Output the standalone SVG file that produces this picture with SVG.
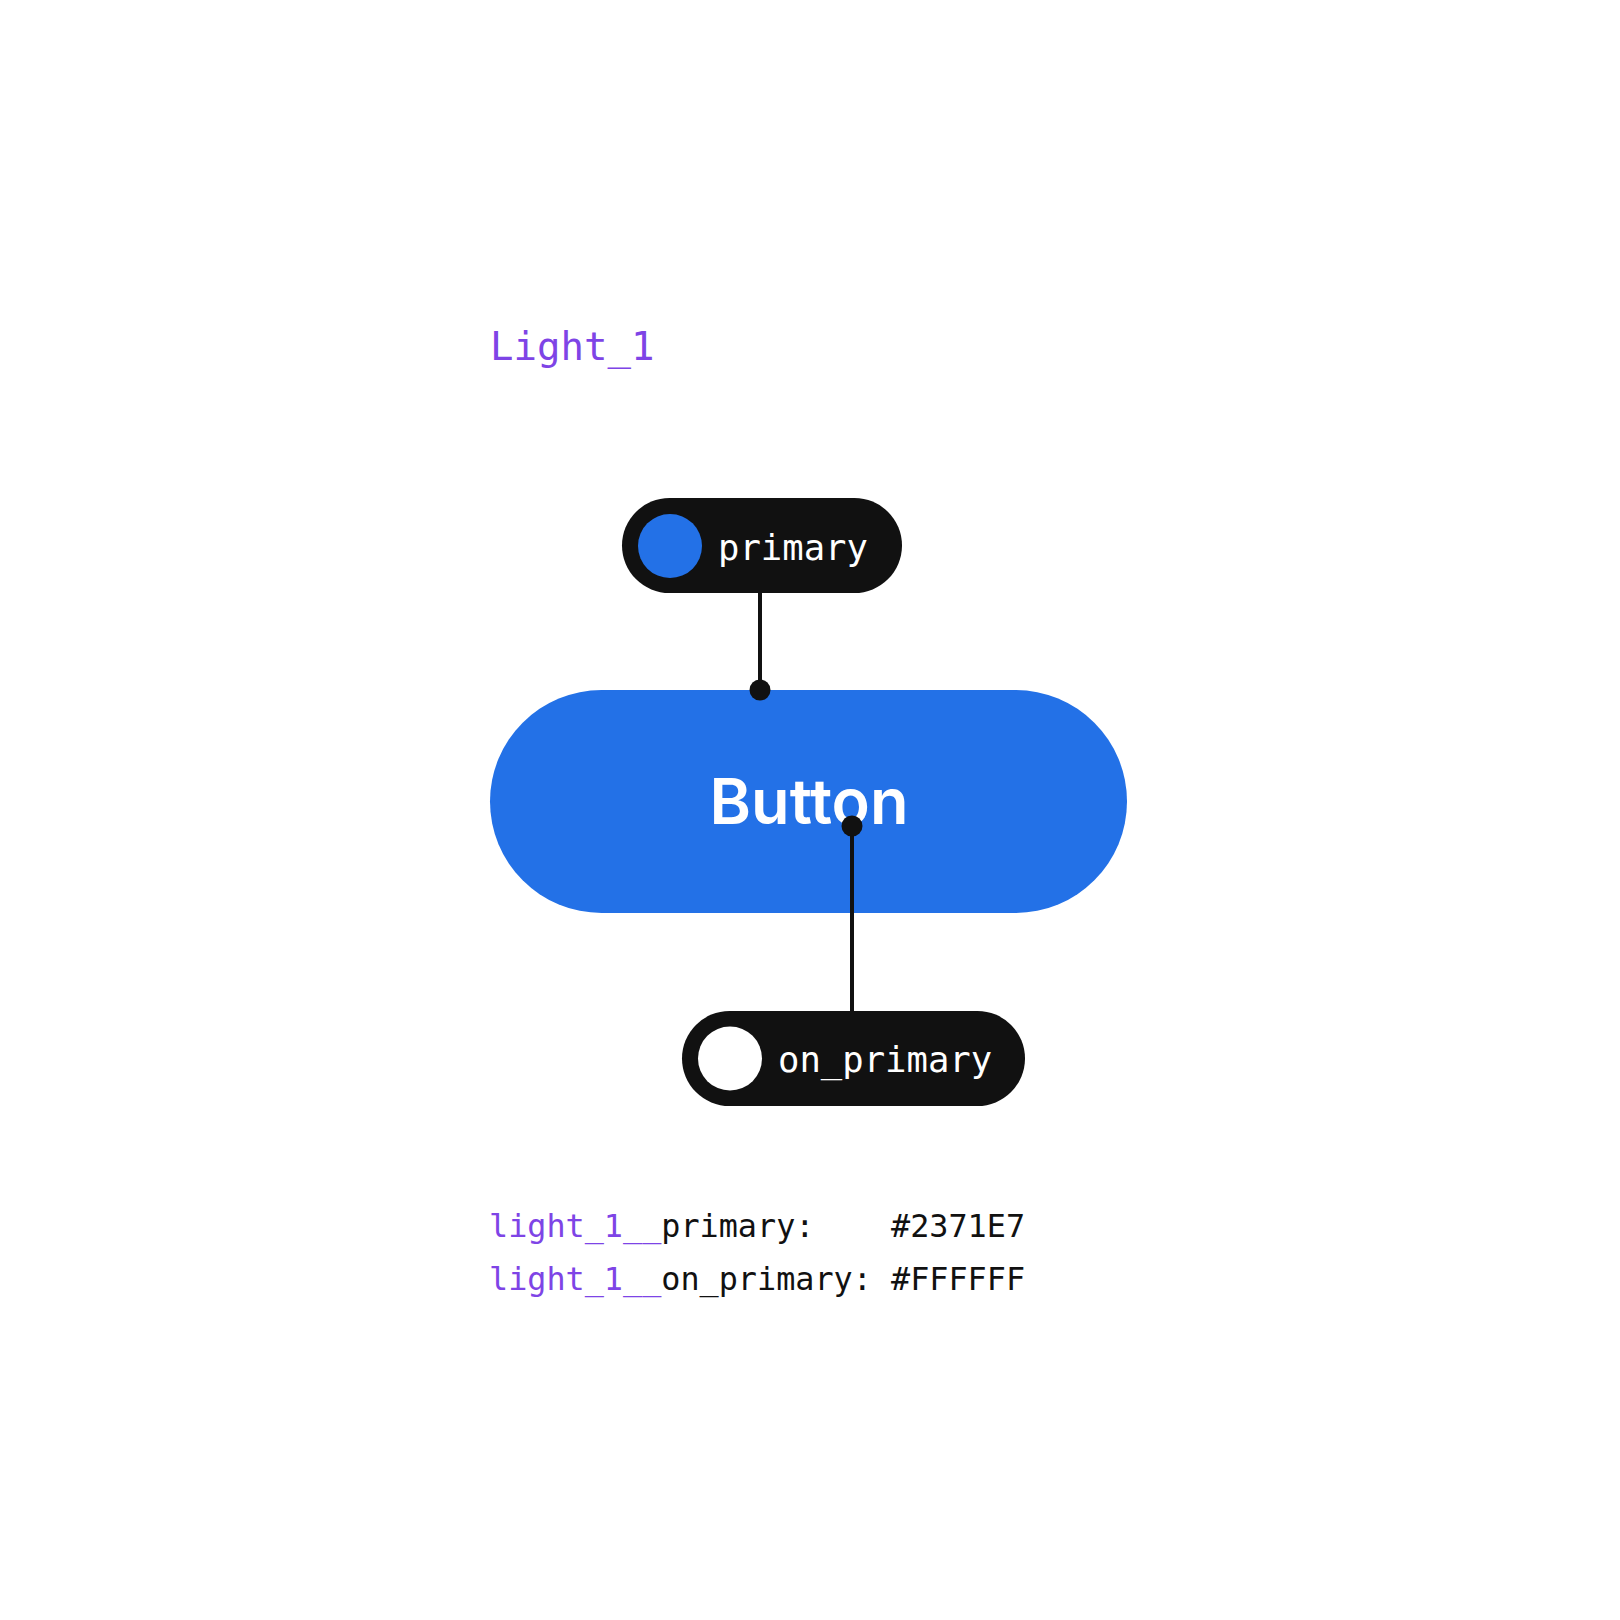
<svg xmlns="http://www.w3.org/2000/svg" width="1620" height="1620" viewBox="0 0 1620 1620">
<style>
.mono{font-family:"DejaVu Sans Mono","Liberation Mono",monospace;}
.purple{fill:#7E44E6;}
.dark{fill:#111111;}
.chip{fill:#111111;}
.chiptext{fill:#FFFFFF;font-size:35.6px;}
.code{font-size:31.8px;white-space:pre;}
.wire{stroke:#111111;stroke-width:4;fill:none;}
.dot{fill:#111111;}
</style>
<rect width="1620" height="1620" fill="#FFFFFF"/>
<text id="title" class="mono purple" x="490" y="360" font-size="39">Light_1</text>
<g id="node-primary">
  <rect class="chip" x="622" y="498" width="280" height="95" rx="47.5"/>
  <circle cx="670" cy="546" r="32" fill="#2371E7"/>
  <text class="mono chiptext" x="718" y="560">primary</text>
</g>
<g id="node-button">
  <rect x="490" y="690" width="637" height="223" rx="111.5" fill="#2371E7"/>
  <text x="809" y="824" text-anchor="middle" font-family="Inter, Roboto, sans-serif" font-weight="600" font-size="63" fill="#FFFFFF">Button</text>
</g>
<g id="node-on-primary">
  <rect class="chip" x="682" y="1011" width="343" height="95" rx="47.5"/>
  <circle cx="730" cy="1058.5" r="32" fill="#FFFFFF"/>
  <text class="mono chiptext" x="778" y="1072">on_primary</text>
</g>
<g id="connectors">
  <line class="wire" x1="760" y1="593" x2="760" y2="690"/>
  <circle class="dot" cx="760" cy="690" r="10.5"/>
  <line class="wire" x1="852" y1="826" x2="852" y2="1011"/>
  <circle class="dot" cx="852" cy="826" r="10.5"/>
</g>
<g id="legend">
  <text class="mono code" x="489" y="1237"><tspan class="purple">light_1__</tspan><tspan class="dark">primary:    #2371E7</tspan></text>
  <text class="mono code" x="489" y="1290"><tspan class="purple">light_1__</tspan><tspan class="dark">on_primary: #FFFFFF</tspan></text>
</g>
</svg>
